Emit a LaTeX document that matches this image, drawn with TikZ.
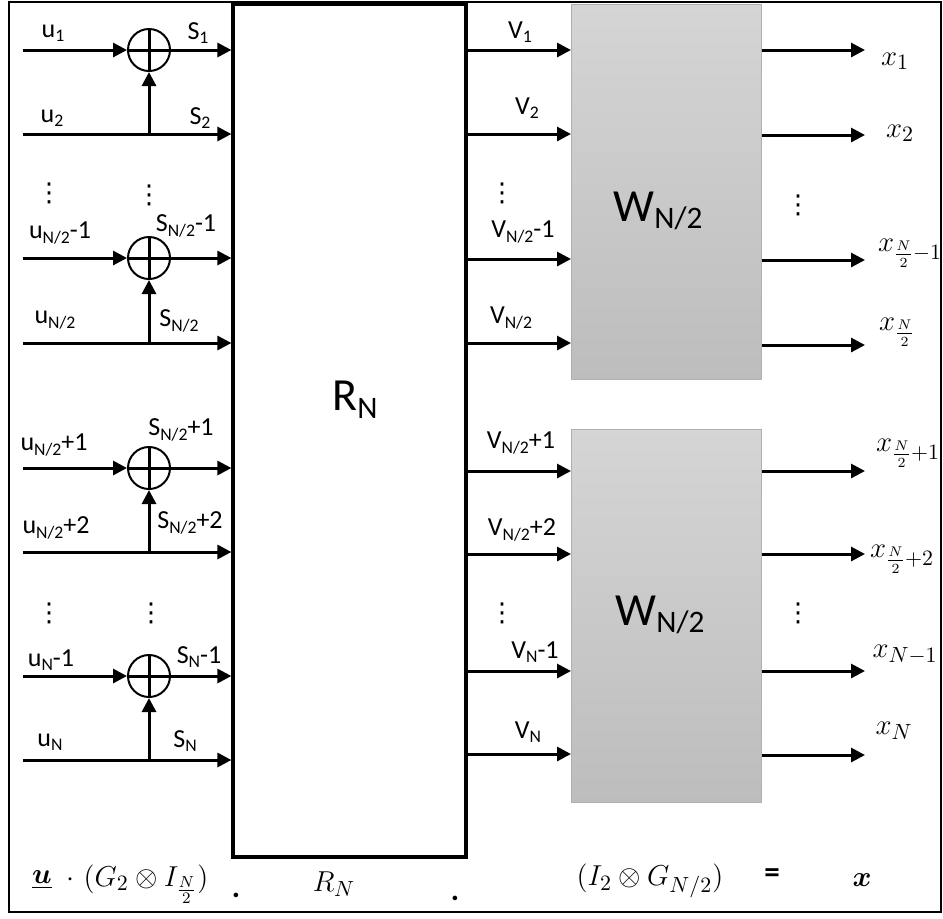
\documentclass[tikz,border=0pt]{standalone}
\usepackage{amsmath}
\usepackage{fontspec}
\setmainfont{Carlito}
\newfontfamily\dejavu{DejaVu Sans}
\usetikzlibrary{positioning,arrows.meta}
\definecolor{wfilltop}{HTML}{D5D5D5}
\definecolor{wfillbot}{HTML}{BDBDBD}
\definecolor{wline}{HTML}{B0B0B0}
\newcommand{\dn}[1]{\raisebox{-0.35ex}{\scalebox{0.68}{#1}}}
\newcommand{\vdts}{{\dejavu ⋮}}

\begin{document}
\begin{tikzpicture}[
  x=0.5pt,y=-0.5pt,
  font=\fontsize{13}{15}\selectfont,
  lbl/.style={inner sep=0pt},
  mlbl/.style={inner sep=0pt,font=\fontsize{15}{17}\selectfont},
  big/.style={inner sep=0pt,font=\fontsize{23}{26}\selectfont},
  eq/.style={inner sep=0pt,font=\fontsize{15.5}{18}\selectfont},
  rbox/.style={rectangle,draw,line width=1.6pt,fill=white,minimum width=116.5pt,minimum height=426.5pt,inner sep=0pt},
  wbox/.style={rectangle,draw=wline,line width=0.5pt,top color=wfilltop,bottom color=wfillbot,minimum width=95pt,inner sep=0pt},
  xorc/.style={circle,draw,line width=1pt,minimum size=21pt,inner sep=0pt,fill=white,
    path picture={\draw[line width=1.5pt] (path picture bounding box.north) -- (path picture bounding box.south)
      (path picture bounding box.west) -- (path picture bounding box.east);}},
  link/.style={line width=1.5pt,-{Triangle[length=7pt,width=7pt]}},
  frame/.style={draw,line width=1pt}
]
\useasboundingbox (0,0) rectangle (943,918);
\draw[frame] (9,2) rectangle (941,912);

% blocks
\node[rbox] (rn) at (349.5,430.5) {};
\node[wbox,minimum height=187.5pt] (wa) at (666,191.5) {};
\node[wbox,minimum height=186.5pt] (wb) at (666,615.5) {};
\node[big] (rlab) at (355,400) {R\dn{N}};
\node[big] (wlaba) at (658,211) {W\dn{N/2}};
\node[big] (wlabb) at (660,615) {W\dn{N/2}};

% xor stages
\node[xorc] (xa) at (149,50) {};
\node[xorc] (xb) at (149,258) {};
\node[xorc] (xc) at (149,468) {};
\node[xorc] (xd) at (149,676) {};

\coordinate (in1) at (23,50);
\coordinate (in2) at (23,134);
\coordinate (in3) at (23,258);
\coordinate (in4) at (23,343);
\coordinate (in5) at (23,468);
\coordinate (in6) at (23,552);
\coordinate (in7) at (23,676);
\coordinate (in8) at (23,760);

\draw[link] (in1) -- (xa);
\draw[link] (xa) -- (xa -| rn.west);
\draw[link] (in2) -- (in2 -| rn.west);
\draw[link] (in2 -| xa) -- (xa);
\draw[link] (in3) -- (xb);
\draw[link] (xb) -- (xb -| rn.west);
\draw[link] (in4) -- (in4 -| rn.west);
\draw[link] (in4 -| xb) -- (xb);
\draw[link] (in5) -- (xc);
\draw[link] (xc) -- (xc -| rn.west);
\draw[link] (in6) -- (in6 -| rn.west);
\draw[link] (in6 -| xc) -- (xc);
\draw[link] (in7) -- (xd);
\draw[link] (xd) -- (xd -| rn.west);
\draw[link] (in8) -- (in8 -| rn.west);
\draw[link] (in8 -| xd) -- (xd);

% left labels
\node[lbl] (lu1) at (53,33) {u\dn{1}};
\node[lbl] (lu2) at (52,118) {u\dn{2}};
\node[lbl] (lu3) at (60,233) {u\dn{N/2}-1};
\node[lbl] (lu4) at (55,320) {u\dn{N/2}};
\node[lbl] (lu5) at (54,445) {u\dn{N/2}+1};
\node[lbl] (lu6) at (56,528) {u\dn{N/2}+2};
\node[lbl] (lu7) at (51,660) {u\dn{N}-1};
\node[lbl] (lu8) at (50,742) {u\dn{N}};
\node[lbl] (ls1) at (198,33) {S\dn{1}};
\node[lbl] (ls2) at (200,118) {S\dn{2}};
\node[lbl] (ls3) at (186,226) {S\dn{N/2}-1};
\node[lbl] (ls4) at (179,321) {S\dn{N/2}};
\node[lbl] (ls5) at (181,430) {S\dn{N/2}+1};
\node[lbl] (ls6) at (190,523) {S\dn{N/2}+2};
\node[lbl] (ls7) at (199,657) {S\dn{N}-1};
\node[lbl] (ls8) at (185,741) {S\dn{N}};
\node[lbl] (dua) at (49,193) {\vdts};
\node[lbl] (dsa) at (149,195) {\vdts};
\node[lbl] (dub) at (49,613) {\vdts};
\node[lbl] (dsb) at (151,613) {\vdts};

% right side
\coordinate (vr1) at (571,50);
\coordinate (vr2) at (571,134);
\coordinate (vr3) at (571,259);
\coordinate (vr4) at (571,343);
\coordinate (vr5) at (571,471);
\coordinate (vr6) at (571,554);
\coordinate (vr7) at (571,671);
\coordinate (vr8) at (571,754);
\coordinate (out1) at (865,50);
\coordinate (out2) at (865,135);
\coordinate (out3) at (865,260);
\coordinate (out4) at (865,345);
\coordinate (out5) at (865,471);
\coordinate (out6) at (865,554);
\coordinate (out7) at (865,671);
\coordinate (out8) at (865,755);

\draw[link] (vr1 -| rn.east) -- (vr1);
\draw[link] (vr2 -| rn.east) -- (vr2);
\draw[link] (vr3 -| rn.east) -- (vr3);
\draw[link] (vr4 -| rn.east) -- (vr4);
\draw[link] (vr5 -| rn.east) -- (vr5);
\draw[link] (vr6 -| rn.east) -- (vr6);
\draw[link] (vr7 -| rn.east) -- (vr7);
\draw[link] (vr8 -| rn.east) -- (vr8);
\draw[link] (out1 -| wa.east) -- (out1);
\draw[link] (out2 -| wa.east) -- (out2);
\draw[link] (out3 -| wa.east) -- (out3);
\draw[link] (out4 -| wa.east) -- (out4);
\draw[link] (out5 -| wb.east) -- (out5);
\draw[link] (out6 -| wb.east) -- (out6);
\draw[link] (out7 -| wb.east) -- (out7);
\draw[link] (out8 -| wb.east) -- (out8);

\node[lbl] (lv1) at (520,32) {V\dn{1}};
\node[lbl] (lv2) at (527,108) {V\dn{2}};
\node[lbl] (lv3) at (523,232) {V\dn{N/2}-1};
\node[lbl] (lv4) at (511,318) {V\dn{N/2}};
\node[lbl] (lv5) at (521,443) {V\dn{N/2}+1};
\node[lbl] (lv6) at (522,530) {V\dn{N/2}+2};
\node[lbl] (lv7) at (535,652) {V\dn{N}-1};
\node[lbl] (lv8) at (528,732) {V\dn{N}};
\node[lbl] (dva) at (502,193) {\vdts};
\node[lbl] (dvb) at (502,613) {\vdts};

\node[mlbl] (lx1) at (895,61) {$x_1$};
\node[mlbl] (lx2) at (900,133) {$x_2$};
\node[mlbl] (lx3) at (910,253) {$x_{\frac{N}{2}-1}$};
\node[mlbl] (lx4) at (897,332) {$x_{\frac{N}{2}}$};
\node[mlbl] (lx5) at (908,453) {$x_{\frac{N}{2}+1}$};
\node[mlbl] (lx6) at (902,559) {$x_{\frac{N}{2}+2}$};
\node[mlbl] (lx7) at (905,655) {$x_{N-1}$};
\node[mlbl] (lx8) at (894,731) {$x_N$};
\node[lbl] (dxa) at (798,205) {\vdts};
\node[lbl] (dxb) at (798,613) {\vdts};

% matrix product
\node[eq] (eu) at (42,880) {$\underline{\boldsymbol{u}}$};
\node[eq] (edot) at (70,880) {$\cdot$};
\node[eq] (eg) at (146,884) {$(G_2\otimes I_{\frac{N}{2}})$};
\node[eq] (edota) at (236,895) {\textbf{.}};
\node[eq] (er) at (334,884) {$R_N$};
\node[eq] (edotb) at (455,898) {\textbf{.}};
\node[eq] (ei) at (650,881) {$(I_2\otimes G_{N/2})$};
\node[eq] (eeq) at (772,876) {\textbf{=}};
\node[eq] (ex) at (862,880) {$\boldsymbol{x}$};
\end{tikzpicture}
\end{document}
